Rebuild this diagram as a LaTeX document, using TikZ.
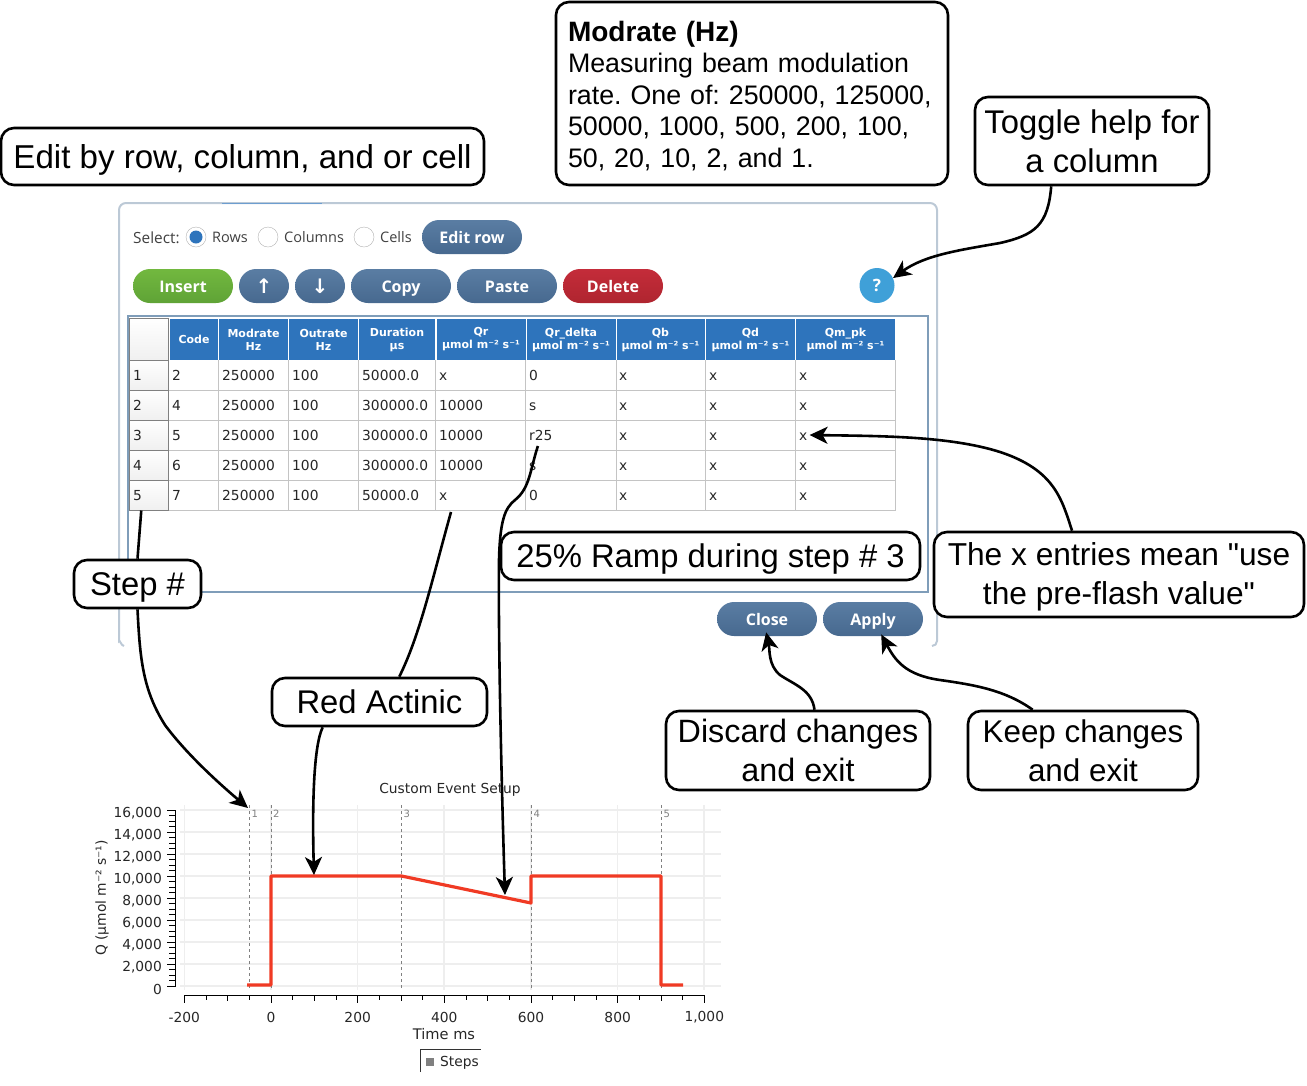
\documentclass[tikz,border=0pt]{standalone}
\usepackage{fontspec}
\setmainfont{Liberation Sans}
\newfontfamily\uifont{Open Sans}
\newfontfamily\plotfont{DejaVu Sans}
\usetikzlibrary{arrows.meta}
\definecolor{btntop}{HTML}{5A7DA3}
\definecolor{btnlow}{HTML}{47698F}
\definecolor{headblue}{HTML}{2E74BC}
\definecolor{framegray}{HTML}{BCC9D6}
\definecolor{tableline}{HTML}{7F9DB9}
\definecolor{cellline}{HTML}{C4C4C4}
\definecolor{plotred}{HTML}{F03A24}
\definecolor{gridgray}{HTML}{EEEEEE}
\definecolor{greentop}{HTML}{72B83F}
\definecolor{greenlow}{HTML}{5FA336}
\definecolor{redtop}{HTML}{C42C3A}
\definecolor{redlow}{HTML}{AF252F}
\definecolor{helpblue}{HTML}{3FA0D8}
\tikzset{
    callout/.style={draw=black,line width=2.6pt,fill=white,rounded corners=13pt,inner sep=0pt,align=center,font=\fontsize{32.8}{39}\selectfont},
    oneline/.style={text height=28pt,text depth=5pt},
    arrowline/.style={line width=2.6pt,-{Stealth[length=18pt,width=17pt,inset=5pt]}},
    plainline/.style={line width=2.6pt},
    btn/.style={rounded corners=17pt,minimum height=34pt,minimum width=100pt,inner sep=0pt,text height=13pt,text depth=1pt,text=white,font=\uifont\bfseries\fontsize{16}{16}\selectfont,top color=btntop,bottom color=btnlow},
    radio/.style={circle,draw=gray!60,fill=white,minimum size=20pt,inner sep=0pt},
    uilabel/.style={anchor=west,inner sep=0pt,text=black!75,font=\uifont\fontsize{14.5}{14}\selectfont},
    headcell/.style={fill=headblue,text=white,inner sep=0pt,minimum height=41pt,align=center,font=\plotfont\bfseries\fontsize{11}{13}\selectfont},
    cell/.style={anchor=west,inner sep=2pt,text height=10pt,text depth=0pt,font=\plotfont\fontsize{13.8}{14}\selectfont,text=black!85},
    rowhead/.style={draw=gray,line width=1pt,top color=white,bottom color=black!6,minimum width=39pt,minimum height=30pt,inner sep=0pt},
    ticktext/.style={inner sep=0pt,font=\plotfont\fontsize{13.8}{14}\selectfont,text=black!85},
    marktext/.style={inner sep=0pt,font=\plotfont\fontsize{10}{10}\selectfont,text=gray},
}
\begin{document}
\begin{tikzpicture}[x=1pt,y=-1pt]
    \useasboundingbox (0,0) rectangle (1307,1085);

    % dialog
    \draw[framegray,line width=2pt] (124,646) to[out=180,in=90] (119,641) -- (119,210) to[out=90,in=180] (126,203) -- (930,203) to[out=0,in=90] (937,210) -- (937,641) to[out=-90,in=0] (932,646);
    \draw[headblue!70!white,line width=1pt] (222,203) -- (322,203);
    \draw[tableline,line width=1.5pt] (128,316) rectangle (928,592);

    \node[uilabel,font=\uifont\fontsize{15.4}{14}\selectfont] (selectlab) at (133,238){Select:};
    \node[radio] (rowsradio) at (196,237){};
    \fill[headblue] (rowsradio) circle (6.5pt);
    \node[uilabel] (rowslab) at (212,237){Rows};
    \node[radio] (colsradio) at (268,237){};
    \node[uilabel] (colslab) at (284,237){Columns};
    \node[radio] (cellsradio) at (364,237){};
    \node[uilabel] (cellslab) at (380,237){Cells};
    \node[btn] (editrow) at (472,237){Edit row};

    \node[btn,top color=greentop,bottom color=greenlow] (insert) at (183,286){Insert};
    \node[btn,minimum width=50pt,text height=17pt,text depth=2pt,font=\plotfont\bfseries\fontsize{20}{20}\selectfont] (up) at (264,286){↑};
    \node[btn,minimum width=50pt,text height=17pt,text depth=2pt,font=\plotfont\bfseries\fontsize{20}{20}\selectfont] (down) at (320,286){↓};
    \node[btn] (copy) at (401,286){Copy};
    \node[btn] (paste) at (507,286){Paste};
    \node[btn,top color=redtop,bottom color=redlow] (delete) at (613,286){Delete};
    \node[circle,fill=helpblue,text=white,minimum size=35pt,inner sep=0pt,font=\uifont\bfseries\fontsize{17}{17}\selectfont] (helpbtn) at (877,285.5){?};
    \node[btn] (closebtn) at (767,619){Close};
    \node[btn] (applybtn) at (873,619){Apply};

    % table
    \node[draw=gray,line width=1pt,top color=white,bottom color=black!6,minimum width=39pt,minimum height=42pt] (corner) at (148.5,339){};
    \foreach \cx/\cw/\hname/\htext in {
        194/48/code/Code,
        253.5/69/modrate/Modrate\\Hz,
        323.5/69/outrate/Outrate\\Hz,
        397/76/duration/Duration\\µs,
        481/89/qr/Qr\\µmol m⁻² s⁻¹,
        571/89/qrdelta/Qr\_delta\\µmol m⁻² s⁻¹,
        660.5/88/qb/Qb\\µmol m⁻² s⁻¹,
        750.5/89/qd/Qd\\µmol m⁻² s⁻¹,
        845.5/99/qmpk/Qm\_pk\\µmol m⁻² s⁻¹}
        \node[headcell,minimum width=\cw pt] (\hname) at (\cx,339.5){\htext};
    \foreach \ly in {390.5,420.5,450.5,480.5,510.5}
        \draw[cellline,line width=1pt] (169,\ly) -- (895.5,\ly);
    \foreach \lx in {218.5,288.5,358.5,435.5,525.5,616,705.5,795.5,895.5}
        \draw[cellline,line width=1pt] (\lx,360) -- (\lx,510.5);
    \foreach \rn/\ry/\rcode/\rdur/\rqr/\rdelta in {
        1/375/2/50000.0/x/0,
        2/405/4/300000.0/10000/s,
        3/435/5/300000.0/10000/r25,
        4/465/6/300000.0/10000/s,
        5/495/7/50000.0/x/0}
    {
        \node[rowhead] (rowhead\rn) at (148.5,\ry){};
        \node[cell] (rownum\rn) at (131,\ry){\rn};
        \node[cell] (code\rn) at (170,\ry){\rcode};
        \node[cell] (mod\rn) at (220,\ry){250000};
        \node[cell] (out\rn) at (290,\ry){100};
        \node[cell] (dur\rn) at (360,\ry){\rdur};
        \node[cell] (qrval\rn) at (437,\ry){\rqr};
        \node[cell] (delta\rn) at (527,\ry){\rdelta};
        \node[cell] (qbval\rn) at (617,\ry){x};
        \node[cell] (qdval\rn) at (707,\ry){x};
        \node[cell] (qmval\rn) at (797,\ry){x};
    }

    % chart
    \foreach \gy in {810,832,854,876,898,920,942,964,986}
        \draw[gridgray,line width=1.6pt] (180,\gy) -- (721,\gy);
    \foreach \gx in {184.5,271,357.5,444,531,617.5,704}
        \draw[gridgray,line width=1.6pt] (\gx,805) -- (\gx,990);
    \draw[line width=1pt] (175.5,810) -- (175.5,986);
    \foreach \ty in {815.5,821,826.5,837.5,843,848.5,859.5,865,870.5,881.5,887,892.5,903.5,909,914.5,925.5,931,936.5,947.5,953,958.5,969.5,975,980.5}
        \draw[line width=0.8pt] (169,\ty) -- (175.5,\ty);
    \foreach \ty/\tlab in {810/{16,000},832/{14,000},854/{12,000},876/{10,000},898/{8,000},920/{6,000},942/{4,000},964/{2,000},986/0}
    {
        \draw[line width=0.8pt] (167,\ty) -- (175.5,\ty);
        \node[ticktext,anchor=east] (ylab\ty) at (162,\ty+3){\tlab};
    }
    \draw[line width=1pt] (184.5,995) -- (704.5,995);
    \foreach \tn in {-150,-50,50,150,250,350,450,550,650,750,850,950}
        \draw[line width=0.8pt] ({271+\tn*0.4333},995) -- ({271+\tn*0.4333},1000);
    \foreach \tn in {-100,100,300,500,700,900}
        \draw[line width=0.8pt] ({271+\tn*0.4333},995) -- ({271+\tn*0.4333},1001);
    \foreach \tn/\tlab in {-200/-200,0/0,200/200,400/400,600/600,800/800,1000/{1,000}}
    {
        \draw[line width=0.8pt] ({271+\tn*0.4333},995) -- ({271+\tn*0.4333},1003);
        \node[ticktext] (xlab\tn) at ({271+\tn*0.4333},1017){\tlab};
    }
    \foreach \mn/\mx in {1/249.3,2/271,3/401.5,4/531.3,5/661.3}
    {
        \draw[gray,dashed,line width=0.7pt] (\mx,805) -- (\mx,990);
        \node[marktext,anchor=west] (mark\mn) at (\mx+2,813.5){\mn};
    }
    \draw[plotred,line width=3.2pt,line join=round] (247,985) -- (271,985) -- (271,876) -- (401.5,876) -- (531,903) -- (531,876) -- (661,876) -- (661,985) -- (683,985);
    \node[ticktext] (charttitle) at (450,790){Custom Event Setup};
    \node[ticktext,font=\plotfont\fontsize{14.6}{15}\selectfont] (xtitle) at (444,1034){Time ms};
    \node[ticktext,rotate=90] (ytitle) at (102,898){Q (µmol m⁻² s⁻¹)};
    \draw[line width=1pt,black!80] (420,1072) -- (420,1049) -- (481,1049);
    \fill[gray] (426,1058) rectangle (434,1066);
    \node[ticktext,anchor=west] (legendlab) at (440,1063){Steps};

    % callouts
    \node[callout,oneline,minimum width=483pt,minimum height=57pt,font=\fontsize{33.1}{39}\selectfont] (editbox) at (242.5,156.5){Edit by row, column, and or cell};
    \node[callout,minimum width=392pt,minimum height=183pt,text width=368pt,align=left,font=\fontsize{26.8}{31.6}\selectfont\frenchspacing] (modbox) at (752,93.5){\rule{0pt}{25pt}\textbf{\fontsize{28}{31.6}\selectfont Modrate (Hz)}\\Measuring beam modulation\\rate. One of: 250000, 125000,\\50000, 1000, 500, 200, 100,\\50, 20, 10, 2, and 1.};
    \node[callout,minimum width=234pt,minimum height=88pt] (togglebox) at (1092,141){Toggle help for\\a column};
    \node[callout,oneline,minimum width=419pt,minimum height=48pt] (rampbox) at (710.5,556){25\% Ramp during step \# 3};
    \node[callout,text depth=1pt,minimum width=370pt,minimum height=85pt,font=\fontsize{31.7}{39}\selectfont] (xbox) at (1119,574.5){The x entries mean \textquotedbl use\\the pre-flash value\textquotedbl};
    \node[callout,minimum width=264pt,minimum height=79pt,font=\fontsize{32.3}{39}\selectfont] (discardbox) at (798,750.5){Discard changes\\and exit};
    \node[callout,minimum width=230pt,minimum height=79pt,font=\fontsize{31.4}{39}\selectfont] (keepbox) at (1083,750.5){Keep changes\\and exit};
    \node[callout,oneline,minimum width=127pt,minimum height=48pt] (stepbox) at (137.5,584){Step \#};
    \node[callout,oneline,minimum width=215pt,minimum height=48pt] (redbox) at (379.5,702){Red Actinic};

    % connectors
    \coordinate (stepmark) at (248,808);
    \coordinate (qrend) at (451,512);
    \coordinate (redmark) at (314,875);
    \coordinate (rampmark) at (505,895);
    \draw[arrowline] (togglebox.228) .. controls (1048,225) and (1035,235) .. (1000,243) .. controls (960,250) and (925,255) .. (helpbtn.25);
    \draw[plainline] (rowhead5.245) -- (stepbox.north);
    \draw[arrowline] (stepbox.south) .. controls (140,660) and (143,690) .. (165,725) .. controls (185,752) and (215,780) .. (stepmark);
    \draw[plainline] (qrend) .. controls (432,580) and (420,635) .. (redbox.52);
    \draw[arrowline] (redbox.204) .. controls (314,745) and (312,800) .. (redmark);
    \draw[arrowline,shorten <=4pt] (delta3.-103) .. controls (530,470) and (530,488) .. (515,500) .. controls (505,508) and (500,520) .. (499,560) .. controls (498,640) and (502,800) .. (rampmark);
    \draw[arrowline] (xbox.137) .. controls (1062,500) and (1055,470) .. (1000,452) .. controls (950,436) and (880,436) .. (qmval3.east);
    \draw[arrowline,shorten >=-4pt] (discardbox.68) .. controls (812,690) and (795,685) .. (780,675) .. controls (768,665) and (770,650) .. (closebtn.south);
    \draw[arrowline,shorten >=-2pt] (keepbox.141) .. controls (1005,690) and (975,685) .. (940,680) .. controls (905,675) and (895,660) .. (applybtn.-62);
\end{tikzpicture}
\end{document}
